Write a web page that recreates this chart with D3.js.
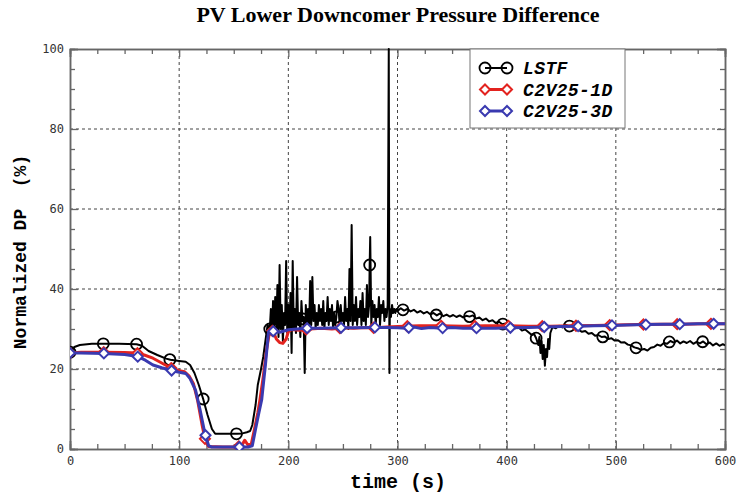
<!DOCTYPE html>
<html>
<head>
<meta charset="utf-8">
<script src="https://cdn.jsdelivr.net/npm/d3@7"></script>
<style>
body{margin:0;background:#fff}
</style>
</head>
<body>
<div id="chart"></div>
<script>
const xTicks = [0,100,200,300,400,500,600];
const yTicks = [0,20,40,60,80,100];
const names = ['LSTF','C2V25-1D','C2V25-3D'];

// LSTF experiment [time, value]
const lstf = [[0,24.2],[4,25.5],[9,26],[20,26.3],[32,26.3],[45,26.3],[61,26.2],[66,25.8],[72,24.5],[80,23.5],[88,22.6],[92,22.3],[100,22],[106,21.8],[110,21],[114,19],[118,16],[122,12.5],[126,8.5],[130,5],[133,3.8],[140,3.8],[148,3.8],[153,3.8],[158,3.9],[162,4.2],[165,4.5],[167,6],[170,11],[172,16],[175,20],[177,23],[179,27],[181,31],[183,30],
[184,35],[185,29],[186,37],[187,31],[188,38],[189,30],[190,41],[191,28],[192,46],[193,30],[194,36],[195,27],[196,34],[197,31],[198,47],[199,29],[200,36],[201,30],[202,39],[203,24],[204,47],[205,30],[206,35],[207,29],[208,43],[209,31],[210,34],[211,28],[212,37],[213,32],[214,33],[215,19],[216,36],[217,31],[218,35],[219,30],[220,42],[221,31],[222,43],[223,32],[224,36],[225,30],[226,34],[227,31],[228,36],[229,32],[230,35],[231,31],[232,37],[233,30],[234,34],[235,32],[236,38],[237,31],[238,35],[239,32],[240,36],[241,30],[242,34],[243,31],[244,33],[245,37],[246,35],[247,31],[248,36],[249,32],[250,34],[251,31],[252,38],[253,32],[254,35],[255,30],[256,45],[257,32],[258,56],[259,31],[260,36],[261,32],[262,38],[263,31],[264,35],[265,33],[266,37],[267,31],[268,39],[269,32],[270,35],[271,31],[272,41],[273,33],[274,36],[274.5,46],[275,53],[276,31],[277,37],[278,33],[279,36],[280,31],[281,35],[282,33],[283,38],[284,31],[285,36],[286,34],[287,37],[288,32],[289,35],[290,33],[291,36],[292,100],[292.6,19],[293,35],[294,33],[295,36],[296,34],[297,35],[298,34],[299,35],[300,34.5],
[303,35.2],[306,34.6],[309,35],[312,34.4],[315,34.8],[318,34.1],[321,34.5],[324,33.9],[327,34.3],[330,33.7],[333,34],[336,33.4],[339,33.9],[342,33.2],[345,33.6],[348,33.1],[351,33.5],[354,33],[357,33.4],[360,32.9],[363,33.3],[366,33.1],[369,33.4],[372,32.6],[375,32.9],[378,32.2],[381,32.6],[384,31.9],[387,32.2],[390,31.5],[393,31.8],[396,31.2],[399,31.4],[402,30.6],[405,30.9],[408,30.2],[411,30.4],[414,29.6],[417,29.9],[420,29.2],[423,28.5],[425,28.8],[427,27.7],[429,26],[430,28],[431,24],[432,27],[433,22.5],[434,26],[435,20.8],[436,25],[437,23],[438,27.5],[439,25],[440,29],[442,30.5],[445,30.2],[448,30.8],[451,30.4],[454,31],[457,30.7],[460,30.9],[463,30.2],[466,29.8],[469,29.3],[472,29.5],[475,28.8],[478,29],[481,28.3],[484,28.5],[487,28],[490,28.1],[493,27.5],[496,27.7],[499,27.1],[502,27.2],[505,26.6],[508,26.7],[511,26.1],[514,25.9],[517,25.4],[520,25.2],[523,24.8],[526,25],[529,24.6],[532,25.3],[535,25.5],[538,26.1],[541,25.8],[544,26.5],[547,26.3],[550,27],[553,26.6],[556,27.1],[559,26.4],[562,26.9],[565,26.5],[568,27],[571,26.3],[574,26.8],[577,26.4],[580,26.9],[583,26.2],[586,26.6],[589,25.9],[592,26.4],[595,25.8],[598,26.2],[600,25.9]];

// C2V25-1D
const c2v1d = [[0,24],[10,24.2],[30,24.2],[50,24.1],[61,24],[68,23.5],[76,22.7],[84,21.5],[92,20.3],[100,19.6],[105,19.3],[109,18.3],[113,16.4],[117,12],[121,6],[124,2],[127,0.6],[140,0.5],[150,0.5],[157,0.7],[160,2.2],[163,1],[166,1.2],[169,5],[172,9],[174,12.3],[177,18],[180,24.7],[183,29.7],[186,29.5],[189,27.5],[192,26.6],[195,26.4],[198,27.5],[200,29.3],[203,29.9],[210,29.7],[220,30],[230,30.2],[240,30],[250,30.3],[260,30.2],[270,30.4],[280,30.3],[290,30.5],[300,30.6],[320,30.8],[340,30.8],[360,30.7],[380,30.8],[400,30.8],[420,30.7],[440,30.7],[460,30.8],[480,30.9],[500,31],[520,31.1],[540,31.2],[560,31.2],[580,31.3],[600,31.3]];

// C2V25-3D
const c2v3d = [[0,24],[10,24],[31,23.9],[50,23.6],[62,23.1],[69,22.2],[76,21],[84,20.3],[92,19.7],[100,19.2],[106,18.9],[110,17.6],[115,14.7],[119,10],[123.5,4],[127,0.8],[130,0.5],[140,0.5],[154,0.5],[163,0.5],[167,0.8],[170,5],[173,9],[175.6,12.3],[179,21],[181.7,28.9],[185,29.4],[188,29.5],[192,29.2],[196,29.5],[200,29.8],[216,30.2],[230,30.2],[247,30.3],[260,30.3],[277,30.4],[290,30.4],[300,30.3],[308,30.2],[315,30.5],[322,30.1],[330,30.4],[340,30.2],[350,30.4],[360,30.2],[372,30.2],[390,30.2],[403,30.3],[420,30.4],[435,30.5],[450,30.6],[465,30.7],[480,30.8],[497,30.9],[510,31],[528,31.1],[545,31.2],[560,31.2],[575,31.3],[600,31.3]];

const series = [
  {name:names[0], data:lstf, color:'#000', width:2, marker:'circle', step:30.5},
  {name:names[1], data:c2v1d, color:'#e3231f', width:3, marker:'diamond', step:30.9},
  {name:names[2], data:c2v3d, color:'#3a3ab0', width:3, marker:'diamond', step:31.03}
];

const width = 738, height = 493;
const svg = d3.select('#chart').append('svg')
  .attr('width', width)
  .attr('height', height);

const x = d3.scaleLinear().domain([0,600]).range([70,725]);
const y = d3.scaleLinear().domain([0,100]).range([449,49]);

svg.append('text')
  .attr('x', 398).attr('y', 22)
  .attr('text-anchor','middle')
  .attr('font-family','Liberation Serif, Times New Roman, serif')
  .attr('font-weight','bold')
  .attr('font-size', 22)
  .text('PV Lower Downcomer Pressure Difference');

// grid
svg.append('g').selectAll('line.gx')
  .data(xTicks.slice(1,-1)).enter().append('line')
  .attr('x1', d=>x(d)).attr('x2', d=>x(d))
  .attr('y1', y(0)).attr('y2', y(100))
  .attr('stroke','#444').attr('stroke-dasharray','3,3');
svg.append('g').selectAll('line.gy')
  .data(yTicks.slice(1,-1)).enter().append('line')
  .attr('x1', x(0)).attr('x2', x(600))
  .attr('y1', d=>y(d)).attr('y2', d=>y(d))
  .attr('stroke','#444').attr('stroke-dasharray','3,3');

// axes with inward ticks
const xMinor = d3.range(0,601,25).filter(d=>d%100);
const yMinor = d3.range(0,101,5).filter(d=>d%20);
function styleAxis(g){
  g.selectAll('path').attr('stroke','#666').attr('stroke-width',1.5);
  g.selectAll('line').attr('stroke','#666').attr('stroke-width',1.3);
  g.selectAll('text').attr('font-family','DejaVu Sans Mono, monospace')
    .attr('font-size',12).attr('fill','#333');
}
svg.append('g').attr('transform',`translate(0,${y(0)})`)
  .call(d3.axisBottom(x).tickValues(xTicks).tickSize(-8).tickPadding(7).tickFormat(d3.format('d')))
  .call(styleAxis);
svg.append('g').attr('transform',`translate(0,${y(0)})`)
  .call(d3.axisBottom(x).tickValues(xMinor).tickSize(-5).tickFormat(''))
  .call(styleAxis);
svg.append('g').attr('transform',`translate(0,${y(100)})`)
  .call(d3.axisTop(x).tickValues(xTicks).tickSize(-8).tickFormat(''))
  .call(styleAxis);
svg.append('g').attr('transform',`translate(0,${y(100)})`)
  .call(d3.axisTop(x).tickValues(xMinor).tickSize(-5).tickFormat(''))
  .call(styleAxis);
svg.append('g').attr('transform',`translate(${x(0)},0)`)
  .call(d3.axisLeft(y).tickValues(yTicks).tickSize(-8).tickPadding(6))
  .call(styleAxis);
svg.append('g').attr('transform',`translate(${x(0)},0)`)
  .call(d3.axisLeft(y).tickValues(yMinor).tickSize(-5).tickFormat(''))
  .call(styleAxis);
svg.append('g').attr('transform',`translate(${x(600)},0)`)
  .call(d3.axisRight(y).tickValues(yTicks).tickSize(-8).tickFormat(''))
  .call(styleAxis);
svg.append('g').attr('transform',`translate(${x(600)},0)`)
  .call(d3.axisRight(y).tickValues(yMinor).tickSize(-5).tickFormat(''))
  .call(styleAxis);

svg.append('clipPath').attr('id','clip').append('rect')
  .attr('x', x(0)).attr('y', y(100)-1)
  .attr('width', x(600)-x(0)).attr('height', y(0)-y(100)+2);

const line = d3.line().x(d=>x(d[0])).y(d=>y(d[1]));
const bis = d3.bisector(d=>d[0]).left;
function valueAt(data, t){
  const i = bis(data, t);
  if (i<=0) return data[0][1];
  if (i>=data.length) return data[data.length-1][1];
  const a = data[i-1], b = data[i];
  return a[1] + (b[1]-a[1])*(t-a[0])/(b[0]-a[0]);
}
const diamond = 'M0,-5L5,0L0,5L-5,0Z';

function drawMarker(g, s, px, py){
  if (s.marker==='circle'){
    g.append('circle').attr('cx',px).attr('cy',py).attr('r',5.5)
      .attr('fill','none').attr('stroke',s.color).attr('stroke-width',1.8);
  } else {
    g.append('path').attr('d',diamond).attr('transform',`translate(${px},${py})`)
      .attr('fill','#fff').attr('stroke',s.color).attr('stroke-width',2);
  }
}

const plot = svg.append('g').attr('clip-path','url(#clip)');
series.forEach(s=>{
  const g = plot.append('g');
  g.append('path').datum(s.data)
    .attr('d', line)
    .attr('fill','none')
    .attr('stroke', s.color)
    .attr('stroke-width', s.width)
    .attr('stroke-linejoin','round');
  d3.range(0, 600.1, s.step).forEach(t=>{
    drawMarker(g, s, x(t), y(valueAt(s.data, t)));
  });
});

// legend
const lg = svg.append('g');
lg.append('rect').attr('x',470).attr('y',49).attr('width',155).attr('height',79)
  .attr('fill','#fff').attr('stroke','#777').attr('stroke-width',1);
series.forEach((s,i)=>{
  const yy = 68 + i*21.5;
  lg.append('line').attr('x1',485).attr('x2',507).attr('y1',yy).attr('y2',yy)
    .attr('stroke',s.color).attr('stroke-width',s.width);
  drawMarker(lg, s, 485, yy);
  drawMarker(lg, s, 507, yy);
  lg.append('text').attr('x',523).attr('y',yy+6)
    .attr('font-family','Liberation Mono, Courier New, monospace')
    .attr('font-weight','bold').attr('font-style','italic')
    .attr('font-size',18).attr('letter-spacing',0.4)
    .text(s.name);
});

// axis titles
svg.append('text')
  .attr('x', 398).attr('y', 488)
  .attr('text-anchor','middle')
  .attr('font-family','Liberation Mono, Courier New, monospace')
  .attr('font-weight','bold').attr('font-size',20)
  .text('time (s)');
svg.append('text')
  .attr('transform','translate(26,252) rotate(-90)')
  .attr('text-anchor','middle')
  .attr('font-family','Liberation Mono, Courier New, monospace')
  .attr('font-weight','bold').attr('font-size',18)
  .style('white-space','pre')
  .text('Normalized DP  (%)');
</script>
</body>
</html>
